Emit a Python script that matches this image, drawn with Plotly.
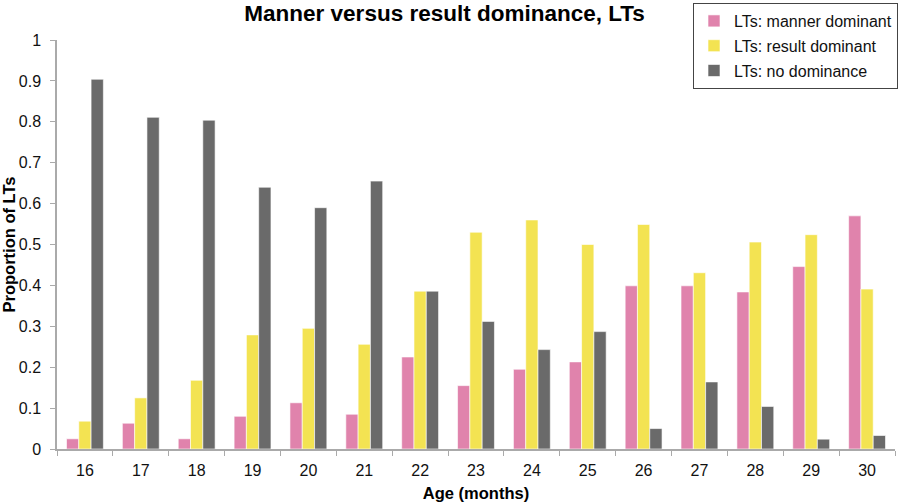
import plotly.graph_objects as go

ages = ["16", "17", "18", "19", "20", "21", "22", "23", "24", "25", "26", "27", "28", "29", "30"]
manner = [0.025, 0.063, 0.025, 0.080, 0.113, 0.085, 0.225, 0.155, 0.195, 0.213, 0.399, 0.399, 0.384, 0.446, 0.570]
result = [0.068, 0.125, 0.168, 0.279, 0.295, 0.256, 0.386, 0.530, 0.560, 0.500, 0.549, 0.431, 0.506, 0.524, 0.391]
nodom = [0.904, 0.811, 0.804, 0.640, 0.590, 0.655, 0.386, 0.312, 0.243, 0.287, 0.050, 0.164, 0.104, 0.024, 0.033]
series_names = ["LTs: manner dominant", "LTs: result dominant", "LTs: no dominance"]
colors = ["#E083AC", "#F3E352", "#6A6A6A"]

fig = go.Figure()
for i, (name, vals, col) in enumerate(zip(series_names, [manner, result, nodom], colors)):
    fig.add_trace(go.Bar(
        x=ages, y=vals, name=name, legendgroup=f"g{i}",
        marker=dict(color=col, line=dict(color="rgba(255,255,255,0.6)", width=1)),
    ))

font_family = "Liberation Sans, Arial, sans-serif"
fig.update_layout(
    width=900, height=503,
    margin=dict(l=57, r=5, t=40, b=54, autoexpand=False),
    paper_bgcolor="white", plot_bgcolor="white",
    font=dict(family=font_family, size=16, color="#111"),
    title=dict(text="<b>Manner versus result dominance, LTs</b>",
               x=0.494, xanchor="center", y=1 - 13/503, yanchor="middle",
               font=dict(size=22.5, color="black")),
    barmode="group", bargap=0.34, bargroupgap=0.0,
    showlegend=True,
    legend=dict(x=693/900, xanchor="left", y=1 - 3/503, yanchor="top",
                yref="container", xref="container",
                bgcolor="white", bordercolor="#444", borderwidth=1,
                font=dict(size=16, color="#111"),
                tracegroupgap=1, itemwidth=30),
    xaxis=dict(
        title=dict(text="<b>Age (months)</b>", font=dict(size=16.5, color="black"), standoff=9),
        showline=True, linecolor="#AAAAAA", linewidth=1.5,
        ticks="outside", tickson="boundaries", ticklen=5, tickcolor="#AAAAAA",
        ticklabelstandoff=6,
        showgrid=False, tickfont=dict(size=16, color="#111"),
    ),
    yaxis=dict(
        title=dict(text="<b>Proportion of LTs</b>", font=dict(size=16.5, color="black"), standoff=2),
        range=[0, 1], tickvals=[0, 0.1, 0.2, 0.3, 0.4, 0.5, 0.6, 0.7, 0.8, 0.9, 1],
        ticktext=["0", "0.1", "0.2", "0.3", "0.4", "0.5", "0.6", "0.7", "0.8", "0.9", "1"],
        showline=True, linecolor="#AAAAAA", linewidth=1.5,
        ticks="outside", ticklen=5, tickcolor="#AAAAAA",
        ticklabelstandoff=6,
        showgrid=False, zeroline=False, tickfont=dict(size=16, color="#111"),
    ),
)

fig.write_html("out.html", config={"displayModeBar": False},
               post_script="document.body.style.margin='0';")
